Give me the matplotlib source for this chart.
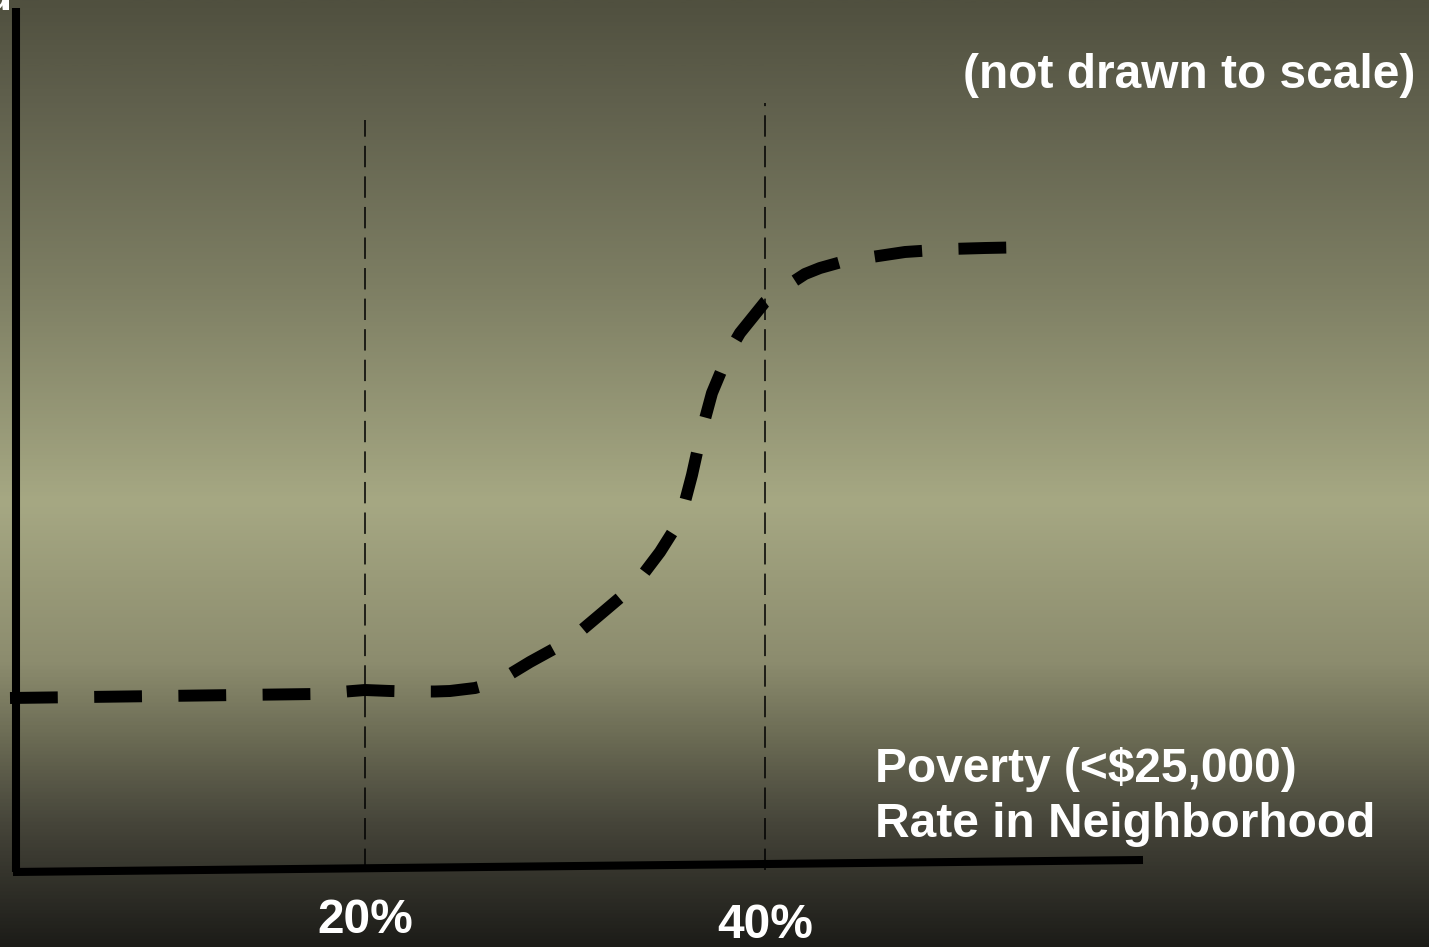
import numpy as np
import matplotlib
matplotlib.use("Agg")
import matplotlib.pyplot as plt
from matplotlib.colors import LinearSegmentedColormap

# sketched curve: poverty rate (%) vs. arbitrary outcome level
poverty = [2.25, 17.5, 20.0, 21.25, 22.4, 23.5, 24.25, 25.5, 26.6, 28.25, 30.25, 31.85, 33.5,
           34.75, 35.35, 35.85, 36.35, 36.85, 37.35, 38.25, 38.75, 40.0, 41.0, 42.0,
           42.75, 44.0, 45.0, 47.0, 49.25, 51.0, 53.5]
level = [1.68, 1.72, 1.76, 1.75, 1.745, 1.745, 1.75, 1.78, 1.84, 2.04, 2.26, 2.53, 2.81,
         3.14, 3.33, 3.53, 3.91, 4.36, 4.73, 5.16, 5.33, 5.64, 5.79, 5.92,
         5.98, 6.05, 6.08, 6.14, 6.17, 6.18, 6.19]

thresholds = [20, 40]
threshold_labels = ['20%', '40%']

plt.rcParams['font.family'] = ['Liberation Sans', 'DejaVu Sans']

fig = plt.figure(figsize=(14.29, 9.47), dpi=100)
ax = fig.add_axes([0, 0, 1, 1])
xmin, xmax = 1.75, 73.2
ymin, ymax = -0.81, 8.66
ax.set_xlim(xmin, xmax)
ax.set_ylim(ymin, ymax)
ax.axis('off')

# slide-style vertical gradient background
stops = [(0.0, '#1c1c18'), (0.13, '#46453a'), (0.22, '#6b6b54'), (0.30, '#8c8c6e'),
         (0.47, '#a6a883'), (0.70, '#7d7e63'), (0.90, '#5f5f4c'), (1.0, '#50503f')]
cmap = LinearSegmentedColormap.from_list('bg', stops)
grad = np.linspace(0, 1, 512).reshape(-1, 1)
ax.imshow(grad, cmap=cmap, aspect='auto', origin='lower',
          extent=[xmin, xmax, ymin, ymax], zorder=0)

# hand-drawn axes
ax.plot([2.55, 2.55], [-0.06, 8.58], color='black', lw=5.8, solid_capstyle='butt', zorder=3)
ax.plot([2.4, 58.9], [-0.06, 0.06], color='black', lw=5.8, solid_capstyle='butt', zorder=3)

# threshold markers
tops = [7.46, 7.63]
for t, top in zip(thresholds, tops):
    ax.plot([t, t], [-0.04, top], color='black', lw=1.1, dashes=(14, 6), zorder=2)

# the sketched response curve
ax.plot(poverty, level, color='black', lw=8.6, dashes=(4, 3.05),
        dash_capstyle='butt', solid_joinstyle='round', zorder=4)

txt = dict(color='white', fontweight='bold', fontsize=34.5)
for t, lab, y in zip(thresholds, threshold_labels, [-0.54, -0.59]):
    ax.text(t, y, lab, ha='center', va='center', **txt)

ax.text(72.5, 7.91, '(not drawn to scale)', ha='right', va='center', **txt)
ax.text(45.5, 0.69, 'Poverty (<$25,000)\nRate in Neighborhood', ha='left', va='center',
        linespacing=1.3, **txt)
# clipped axis title remnant at top-left corner
ax.text(2.35, 8.56, 'd', ha='right', va='baseline', **txt)

fig.savefig('out.png', dpi=100)
